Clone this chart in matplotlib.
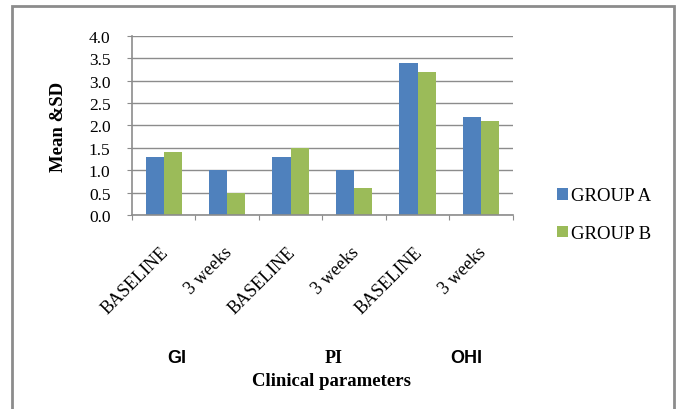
import numpy as np
import matplotlib.pyplot as plt
import matplotlib.transforms as mtransforms
from matplotlib.patches import Rectangle

# Data
categories = ["BASELINE", "3 weeks", "BASELINE", "3 weeks", "BASELINE", "3 weeks"]
group_a = [1.3, 1.0, 1.3, 1.0, 3.4, 2.2]
group_b = [1.4, 0.5, 1.5, 0.6, 3.2, 2.1]
groups = ["GI", "PI", "OHI"]
series_names = ["GROUP A", "GROUP B"]

plt.rcParams["font.family"] = ["Liberation Serif", "DejaVu Serif"]

fig = plt.figure(figsize=(6.8, 4.1), dpi=100)
ax = fig.add_axes([0.194, 0.473, 0.560, 0.437])

x = np.arange(len(categories))
w = 0.285
ax.bar(x - w / 2, group_a, w, color="#4F81BD", label=series_names[0], zorder=2)
ax.bar(x + w / 2, group_b, w, color="#9BBB59", label=series_names[1], zorder=2)

ax.set_xlim(-0.5, len(categories) - 0.5)
ax.set_ylim(0, 4.0)
ax.set_yticks(np.arange(0, 4.01, 0.5))
ax.set_yticklabels([f"{v:.1f}" for v in np.arange(0, 4.01, 0.5)], fontsize=12.5)
ax.grid(axis="y", color="#8c8c8c", linewidth=1, zorder=0)

# category boundary ticks, labels centred
ax.set_xticks(np.arange(-0.5, len(categories), 1))
ax.set_xticklabels([])
ax.set_xticks(x, minor=True)
ax.set_xticklabels(categories, minor=True, rotation=45, ha="right",
                   rotation_mode="anchor", fontsize=13)
ax.tick_params(axis="x", which="minor", length=0, pad=20)
ax.tick_params(axis="x", which="major", length=3.5, color="#8c8c8c")
ax.tick_params(axis="y", length=3.5, color="#8c8c8c", pad=12)
shift = mtransforms.ScaledTranslation(-4 / 100, 0, fig.dpi_scale_trans)
for lbl in ax.get_xticklabels(minor=True):
    lbl.set_transform(lbl.get_transform() + shift)

for side in ["top", "right"]:
    ax.spines[side].set_visible(False)
for side in ["left", "bottom"]:
    ax.spines[side].set_color("#8c8c8c")
    ax.spines[side].set_linewidth(1.2)

ax.set_ylabel("Mean &SD", fontsize=13.5, fontweight="bold", labelpad=16)

# group labels and axis title
for gx, g in zip([177, 334, 466], groups):
    fam = "Liberation Serif" if g == "PI" else "Liberation Sans"
    fig.text(gx / 680, 1 - 359 / 410, g, ha="center", va="center",
             fontsize=13, fontweight="bold", family=fam)
fig.text(332 / 680, 1 - 382 / 410, "Clinical parameters", ha="center",
         va="center", fontsize=13.5, fontweight="bold")

ax.legend(loc="upper left", bbox_to_anchor=(549 / 680, 1 - 181 / 410),
          bbox_transform=fig.transFigure, frameon=False, fontsize=13.5,
          handlelength=0.6, handleheight=0.6, handletextpad=0.15,
          labelspacing=1.1, borderaxespad=0)

# chart border
fig.patches.append(Rectangle((12 / 680, -0.05), 662 / 680, 1.05 - 7 / 410,
                             transform=fig.transFigure, fill=False,
                             edgecolor="#8c8c8c", linewidth=2))

plt.savefig("out.png")
plt.close()
